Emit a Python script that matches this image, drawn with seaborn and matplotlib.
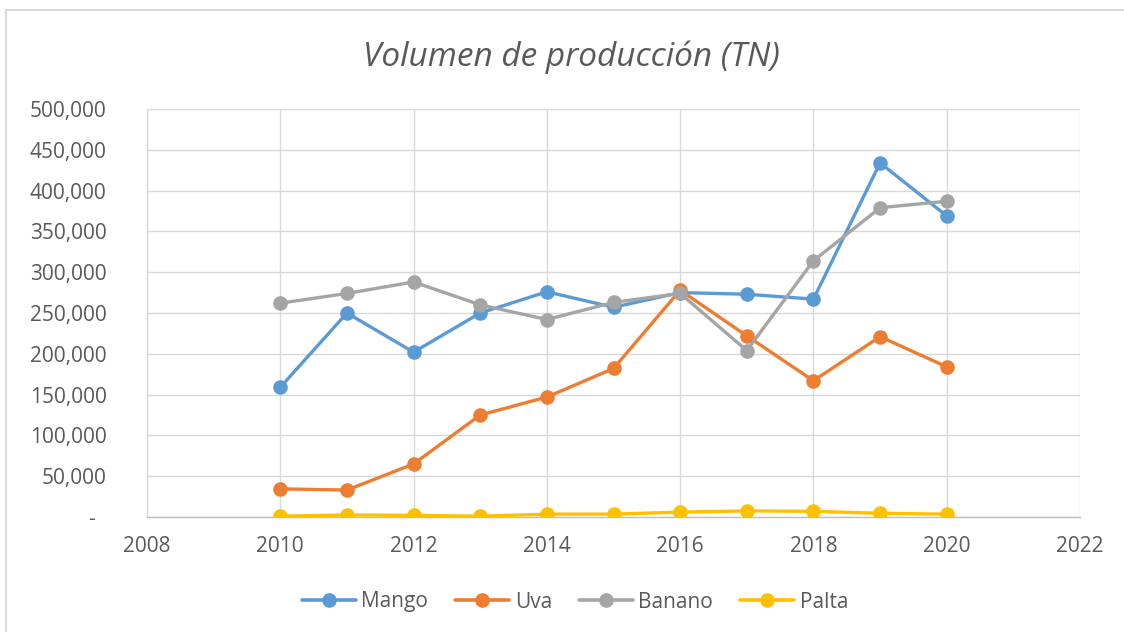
import matplotlib
matplotlib.use("Agg")
import matplotlib.pyplot as plt
import matplotlib.ticker as mticker
from matplotlib.lines import Line2D
import seaborn as sns
import pandas as pd

years = [2010, 2011, 2012, 2013, 2014, 2015, 2016, 2017, 2018, 2019, 2020]
mango = [159000, 250000, 202000, 250000, 276000, 257000, 275000, 273000, 267000, 434000, 369000]
uva = [34500, 33000, 65000, 125000, 147000, 182000, 278000, 222000, 167000, 221000, 184000]
banano = [262000, 274000, 288000, 260000, 242000, 263000, 274000, 204000, 314000, 379000, 387000]
palta = [1000, 2500, 2000, 1000, 3500, 3500, 6000, 7500, 7000, 4500, 3500]
series_names = ["Mango", "Uva", "Banano", "Palta"]
colors = ["#5B9BD5", "#ED7D31", "#A5A5A5", "#FFC000"]
title = "Volumen de producción (TN)"

df = pd.DataFrame({
    "Año": years * 4,
    "Valor": mango + uva + banano + palta,
    "Serie": sum([[n] * len(years) for n in series_names], []),
})

sns.set_style("white")
plt.rcParams["font.family"] = ["Open Sans", "DejaVu Sans"]

fig = plt.figure(figsize=(11.24, 6.32), dpi=100)
ax = fig.add_axes([147 / 1124, 1 - 517 / 632, (1080 - 147) / 1124, (517 - 109) / 632])

sns.lineplot(data=df, x="Año", y="Valor", hue="Serie", palette=colors,
             marker="o", markersize=10.5, markeredgewidth=0, linewidth=2.4,
             ax=ax, legend=False, zorder=3)

ax.set_xlim(2008, 2022)
ax.set_ylim(0, 500000)
ax.set_xticks(range(2008, 2023, 2))
ax.set_yticks(range(0, 500001, 50000))
ax.yaxis.set_major_formatter(mticker.FuncFormatter(lambda v, p: "-  " if v == 0 else f"{int(v):,}"))
ax.grid(True, color="#D9D9D9", linewidth=1.0)
ax.set_axisbelow(True)
for s in ["top", "right"]:
    ax.spines[s].set_visible(False)
ax.spines["left"].set_color("#D9D9D9")
ax.spines["bottom"].set_color("#BFBFBF")
ax.spines["left"].set_linewidth(1.0)
ax.spines["bottom"].set_linewidth(1.0)
ax.tick_params(axis="y", length=0, pad=29, labelsize=15, labelcolor="#595959")
ax.tick_params(axis="x", length=0, pad=14, labelsize=15, labelcolor="#595959")
ax.set_xlabel("")
ax.set_ylabel("")
for lbl in ax.get_xticklabels() + ax.get_yticklabels():
    lbl.set_clip_on(False)

fig.text(571 / 1124, 1 - 57 / 632, title, ha="center", va="center",
         fontsize=24, style="italic", color="#595959")

handles = [Line2D([0], [0], color=c, linewidth=2.6, marker="o", markersize=10.5,
                  markeredgewidth=0) for c in colors]
fig.legend(handles, series_names, loc="center", bbox_to_anchor=(575 / 1124, 1 - 602 / 632),
           ncol=4, frameon=False, fontsize=15, handlelength=2.6, handletextpad=0.25,
           columnspacing=1.3, labelcolor="#595959")

# chart area border (top and left visible)
fig.add_artist(Line2D([6.5 / 1124, 6.5 / 1124], [0, 1 - 10 / 632], transform=fig.transFigure,
                      color="#D9D9D9", linewidth=1.5))
fig.add_artist(Line2D([6.5 / 1124, 1], [1 - 10 / 632, 1 - 10 / 632], transform=fig.transFigure,
                      color="#D9D9D9", linewidth=1.5))

fig.savefig("out.png", dpi=100)
